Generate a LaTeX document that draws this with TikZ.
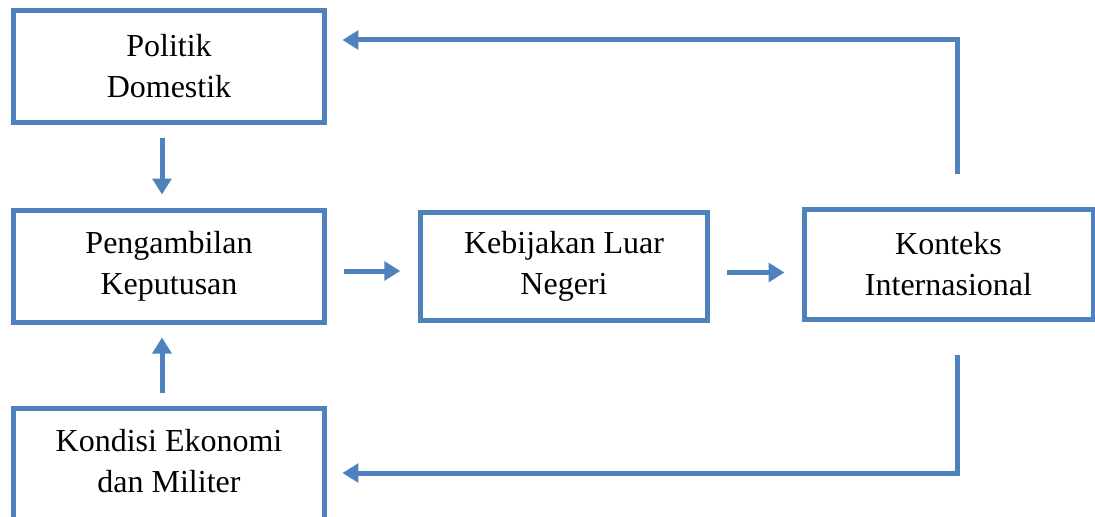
\documentclass[tikz,border=0pt]{standalone}
\usepackage{fontspec}
\setmainfont{Liberation Serif}
\usetikzlibrary{arrows.meta}
\definecolor{boxblue}{RGB}{79,129,189}
\tikzset{every picture/.style={line width=0.75pt}}
\tikzset{
  box/.style={draw=boxblue, line width=3.75pt, rectangle, align=center,
    font=\fontsize{24}{30.75}\selectfont, inner sep=0pt},
  flow/.style={draw=boxblue, line width=3.75pt,
    -{Triangle[length=12pt, width=14pt]}}
}

\begin{document}
\begin{tikzpicture}[x=0.75pt,y=0.75pt,yscale=-1,xscale=1]
\useasboundingbox (0,0) rectangle (1095,517);
\clip (0,0) rectangle (1095,517);

%Shape: Rectangle [id:politik]
\node[box, minimum width=233.25pt, minimum height=84pt] (politik) at (169,66.5) {Politik\\Domestik};
%Shape: Rectangle [id:keputusan]
\node[box, minimum width=233.25pt, minimum height=84pt] (keputusan) at (169,266) {Pengambilan\\Keputusan};
%Shape: Rectangle [id:kondisi]
\node[box, minimum width=233.25pt, minimum height=84pt] (kondisi) at (169,464.5) {};
%Shape: Rectangle [id:kebijakan]
\node[box, minimum width=215.6pt, minimum height=81pt] (kebijakan) at (564,266.5) {Kebijakan Luar\\Negeri};
%Shape: Rectangle [id:konteks]
\node[box, minimum width=216.75pt, minimum height=82.5pt] (konteks) at (948.5,264) {Konteks\\Internasional};

% Text Node
\node[font=\fontsize{24}{30.75}\selectfont, align=center] (kondisitxt) at (169,461) {Kondisi Ekonomi\\dan Militer};

%Corner points
\coordinate (atas) at (957,40);
\coordinate (bawah) at (957,473);

%Straight Lines [id:a1]
\draw[flow, shorten <=9.4pt, shorten >=9.75pt] ([xshift=-5.25pt]politik.south) -- ([xshift=-5.25pt]keputusan.north);
%Straight Lines [id:a2]
\draw[flow, shorten <=10.1pt, shorten >=9.75pt] ([xshift=-5.25pt]kondisi.north) -- ([xshift=-5.25pt]keputusan.south);
%Straight Lines [id:a3]
\draw[flow, shorten <=12.4pt, shorten >=13.1pt] ([yshift=3.75pt]keputusan.east) -- ([yshift=3.75pt]keputusan.east -| kebijakan.west);
%Straight Lines [id:a4]
\draw[flow, shorten <=12.75pt, shorten >=12.75pt] ([yshift=4.5pt]kebijakan.east) -- ([yshift=4.5pt]kebijakan.east -| konteks.west);
%Straight Lines [id:a5]
\draw[flow, shorten <=24.75pt, shorten >=11.6pt] (konteks.north -| atas) -- (atas) -- (atas -| politik.east);
%Straight Lines [id:a6]
\draw[flow, shorten <=24.75pt, shorten >=11.6pt] (konteks.south -| bawah) -- (bawah) -- (bawah -| kondisi.east);

\end{tikzpicture}
\end{document}
